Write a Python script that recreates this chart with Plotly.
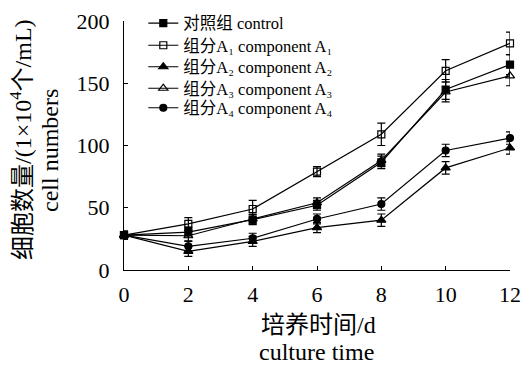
import plotly.graph_objects as go

days = [0, 2, 4, 6, 8, 10, 12]

control = [28, 30.5, 40.5, 52, 86.5, 145, 165]
control_err = [3, 4, 4, 4, 5, 8, 8]
a1 = [28, 37, 49, 79, 109, 160, 182]
a1_err = [3, 5, 7, 4, 9, 9, 9]
a2 = [28, 15, 23, 34, 40, 82, 98]
a2_err = [3, 4, 4, 4, 5, 5, 5]
a3 = [28, 27.5, 41, 54, 88, 143, 156]
a3_err = [3, 4, 4, 4, 5, 8, 8]
a4 = [28, 19, 25.5, 41, 53, 96, 106]
a4_err = [3, 4, 4, 4, 5, 5, 5]

names = ["对照组 control",
         "组分A₁ component A₁",
         "组分A₂ component A₂",
         "组分A₃ component A₃",
         "组分A₄ component A₄"]
series = [control, a1, a2, a3, a4]
errors = [control_err, a1_err, a2_err, a3_err, a4_err]
symbols = ["square", "square-open", "triangle-up", "triangle-up-open", "circle"]
msizes = [7, 7, 8, 8, 7]

FONT = "Liberation Serif, Times New Roman, Noto Sans CJK SC, serif"

legend_ids = ["legend", "legend2", "legend3", "legend4", "legend5"]
# legend row centres (pixels from top) -> paper y
row_px = [23.3, 45.5, 67, 88.5, 108]
PLOT_BOTTOM = 270.0
PLOT_H = 249.0

fig = go.Figure()
for name, vals, err, sym, ms, lg in zip(names, series, errors, symbols, msizes, legend_ids):
    fig.add_trace(go.Scatter(
        x=days, y=vals, name=name, mode="lines+markers",
        line=dict(color="black", width=1.2),
        marker=dict(symbol=sym, size=ms, color="black",
                    line=dict(color="black", width=1.2)),
        error_y=dict(type="data", array=err, visible=True,
                     color="black", thickness=1.2, width=4),
        cliponaxis=False, hoverinfo="skip", legend=lg,
    ))

legend_layout = {}
for lg, px in zip(legend_ids, row_px):
    legend_layout[lg] = dict(
        x=0.05, y=(PLOT_BOTTOM - px) / PLOT_H, xanchor="left", yanchor="middle",
        bgcolor="rgba(0,0,0,0)", borderwidth=0,
        font=dict(family=FONT, size=16.5, color="black"),
        itemwidth=30)

fig.update_layout(
    width=524, height=367,
    margin=dict(l=124, r=14, t=21, b=97, autoexpand=False),
    paper_bgcolor="white", plot_bgcolor="white",
    font=dict(family=FONT, color="black", size=22),
    showlegend=True,
    xaxis=dict(range=[0, 12], tickvals=days, ticktext=[str(d) for d in days],
               showline=True, linecolor="black", linewidth=1.2,
               ticks="inside", ticklen=4, tickcolor="black", tickwidth=1.2,
               showgrid=False, zeroline=False, ticklabelstandoff=4,
               tickfont=dict(family=FONT, size=22)),
    yaxis=dict(range=[0, 200], tickvals=[0, 50, 100, 150, 200],
               showline=True, linecolor="black", linewidth=1.2,
               ticks="inside", ticklen=4, tickcolor="black", tickwidth=1.2,
               showgrid=False, zeroline=False, ticklabelstandoff=9,
               tickfont=dict(family=FONT, size=22)),
    annotations=[
        dict(text="细胞数量/(1×10<sup>4</sup>个/mL)",
             xref="paper", yref="paper", x=(21 - 124) / 386, y=(PLOT_BOTTOM - 140) / PLOT_H,
             xanchor="center", yanchor="middle", textangle=-90,
             showarrow=False, font=dict(family=FONT, size=24)),
        dict(text="cell numbers",
             xref="paper", yref="paper", x=(50 - 124) / 386, y=(PLOT_BOTTOM - 151) / PLOT_H,
             xanchor="center", yanchor="middle", textangle=-90,
             showarrow=False, font=dict(family=FONT, size=24)),
        dict(text="培养时间/d",
             xref="paper", yref="paper", x=(318 - 124) / 386, y=(PLOT_BOTTOM - 325) / PLOT_H,
             xanchor="center", yanchor="middle",
             showarrow=False, font=dict(family=FONT, size=24)),
        dict(text="culture time",
             xref="paper", yref="paper", x=(316 - 124) / 386, y=(PLOT_BOTTOM - 352) / PLOT_H,
             xanchor="center", yanchor="middle",
             showarrow=False, font=dict(family=FONT, size=24)),
    ],
    **legend_layout,
)

fig.write_html(
    "out.html",
    config={"displayModeBar": False},
    post_script="document.body.style.margin='0';document.body.style.overflow='hidden';",
)
